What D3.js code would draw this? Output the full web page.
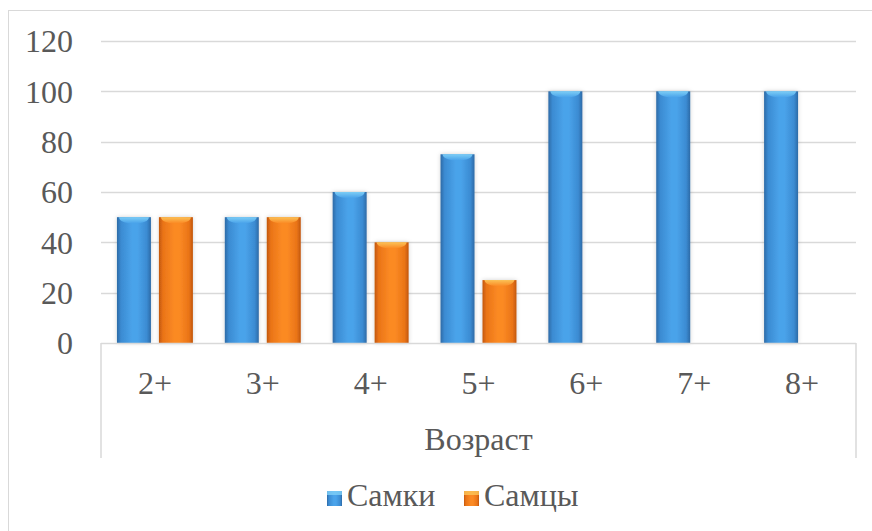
<!DOCTYPE html>
<html>
<head>
<meta charset="utf-8">
<script src="https://cdn.jsdelivr.net/npm/d3@7"></script>
</head>
<body style="margin:0;padding:0;background:#fff">
<svg id="chart" width="872" height="531" style="display:block"></svg>
<script>
// Age groups and share per sex (%)
const categories = ["2+", "3+", "4+", "5+", "6+", "7+", "8+"];
const seriesNames = ["Самки", "Самцы"];
const females = [50, 50, 60, 75, 100, 100, 100];
const males = [50, 50, 40, 25, 0, 0, 0];
const yTicks = [0, 20, 40, 60, 80, 100, 120];
const axisTitle = "Возраст";

const seriesValues = [females, males];
const palette = [
  { edge: "#2d6aa6", mid: "#3b8bd2", light: "#4aa3ea", cap: "#7fd0f7" },
  { edge: "#c2570e", mid: "#ea7417", light: "#fb8a24", cap: "#fbc55a" }
];
const fontSize = 32;
const textColor = "#595959";

const svg = d3.select("#chart");
const plotLeft = 101, plotRight = 856, plotTop = 41, plotBottom = 343;

const x = d3.scaleBand().domain(categories).range([plotLeft, plotRight]).paddingInner(0).paddingOuter(0);
const xInner = d3.scaleBand().domain(seriesNames).range([0, x.bandwidth()])
  .paddingInner(0.19).paddingOuter(0.38);
const y = d3.scaleLinear().domain([0, 120]).range([plotBottom, plotTop]);

function styleText(sel) {
  return sel.attr("font-family", "Liberation Serif").attr("font-size", fontSize)
    .style("font-family", "'Liberation Serif'").attr("fill", textColor);
}

const defs = svg.append("defs");
palette.forEach((p, i) => {
  const g = defs.append("linearGradient").attr("id", "body" + i)
    .attr("x1", 0).attr("x2", 1).attr("y1", 0).attr("y2", 0);
  [[0, p.edge], [0.12, p.mid], [0.45, p.light], [0.6, p.light], [0.88, p.mid], [1, p.edge]]
    .forEach(([o, c]) => g.append("stop").attr("offset", o).attr("stop-color", c));
  const c = defs.append("linearGradient").attr("id", "cap" + i)
    .attr("x1", 0).attr("x2", 0).attr("y1", 0).attr("y2", 1);
  c.append("stop").attr("offset", 0).attr("stop-color", p.cap);
  c.append("stop").attr("offset", 1).attr("stop-color", p.light);
});
const shadow = defs.append("filter").attr("id", "glow")
  .attr("x", "-30%").attr("y", "-10%").attr("width", "160%").attr("height", "120%");
shadow.append("feGaussianBlur").attr("in", "SourceAlpha").attr("stdDeviation", 2).attr("result", "b");
shadow.append("feFlood").attr("flood-color", "#000").attr("flood-opacity", 0.18);
shadow.append("feComposite").attr("in2", "b").attr("operator", "in").attr("result", "s");
const merge = shadow.append("feMerge");
merge.append("feMergeNode").attr("in", "s");
merge.append("feMergeNode").attr("in", "SourceGraphic");

// Outer frame
svg.append("rect").attr("x", 8.5).attr("y", 10.5).attr("width", 880).attr("height", 540)
  .attr("fill", "none").attr("stroke", "#d9d9d9");

// Gridlines
svg.append("g").selectAll("line").data(yTicks.filter(d => d > 0)).join("line")
  .attr("x1", plotLeft).attr("x2", plotRight)
  .attr("y1", d => Math.round(y(d)) + 0.5).attr("y2", d => Math.round(y(d)) + 0.5)
  .attr("stroke", "#d9d9d9").attr("stroke-width", 1.5);

// Value axis labels
const yAxis = svg.append("g").attr("transform", `translate(${plotLeft - 28},0)`)
  .call(d3.axisLeft(y).tickValues(yTicks).tickSize(0).tickPadding(0));
yAxis.attr("font-family", "Liberation Serif");
yAxis.select(".domain").remove();
styleText(yAxis.selectAll("text")).attr("dy", "0.34em");

// Bars
const groups = svg.append("g").selectAll("g").data(categories).join("g")
  .attr("transform", d => `translate(${x(d)},0)`);
groups.each(function (cat, ci) {
  const g = d3.select(this);
  seriesNames.forEach((s, si) => {
    const v = seriesValues[si][ci];
    if (!v) return;
    const bx = xInner(s), bw = xInner.bandwidth();
    const by = y(v), bh = y(0) - y(v);
    const bar = g.append("g").attr("filter", "url(#glow)");
    bar.append("rect").attr("x", bx).attr("y", by).attr("width", bw).attr("height", bh)
      .attr("fill", `url(#body${si})`);
    // bevelled top
    const capH = 6;
    bar.append("path")
      .attr("d", `M${bx + 2},${by} H${bx + bw - 2} Q${bx + bw - 3},${by + capH} ${bx + bw / 2},${by + capH} Q${bx + 3},${by + capH} ${bx + 2},${by} Z`)
      .attr("fill", `url(#cap${si})`).attr("opacity", 0.95);
  });
});

// Category axis line and frame of the label area
const axisColor = "#d9d9d9";
svg.append("line").attr("x1", plotLeft).attr("x2", plotRight)
  .attr("y1", plotBottom + 0.5).attr("y2", plotBottom + 0.5)
  .attr("stroke", axisColor).attr("stroke-width", 1.5);
[plotLeft, plotRight].forEach(px => svg.append("line")
  .attr("x1", px).attr("x2", px).attr("y1", plotBottom).attr("y2", 458)
  .attr("stroke", axisColor).attr("stroke-width", 1.5));

const xAxis = svg.append("g").attr("transform", `translate(0,${plotBottom})`)
  .call(d3.axisBottom(x).tickSize(0).tickPadding(0));
xAxis.attr("font-family", "Liberation Serif");
xAxis.select(".domain").remove();
styleText(xAxis.selectAll("text")).attr("y", 51).attr("dy", 0);

styleText(svg.append("text").attr("x", (plotLeft + plotRight) / 2).attr("y", 450)
  .attr("text-anchor", "middle")).text(axisTitle);

// Legend
const legendItems = [{ x: 327, tx: 347 }, { x: 464, tx: 484 }];
seriesNames.forEach((s, i) => {
  const l = legendItems[i];
  svg.append("rect").attr("x", l.x).attr("y", 491).attr("width", 15).attr("height", 15)
    .attr("fill", `url(#body${i})`);
  svg.append("rect").attr("x", l.x).attr("y", 491).attr("width", 15).attr("height", 4)
    .attr("fill", palette[i].cap).attr("opacity", 0.8);
  styleText(svg.append("text").attr("x", l.tx).attr("y", 506)).text(s);
});
</script>
</body>
</html>
